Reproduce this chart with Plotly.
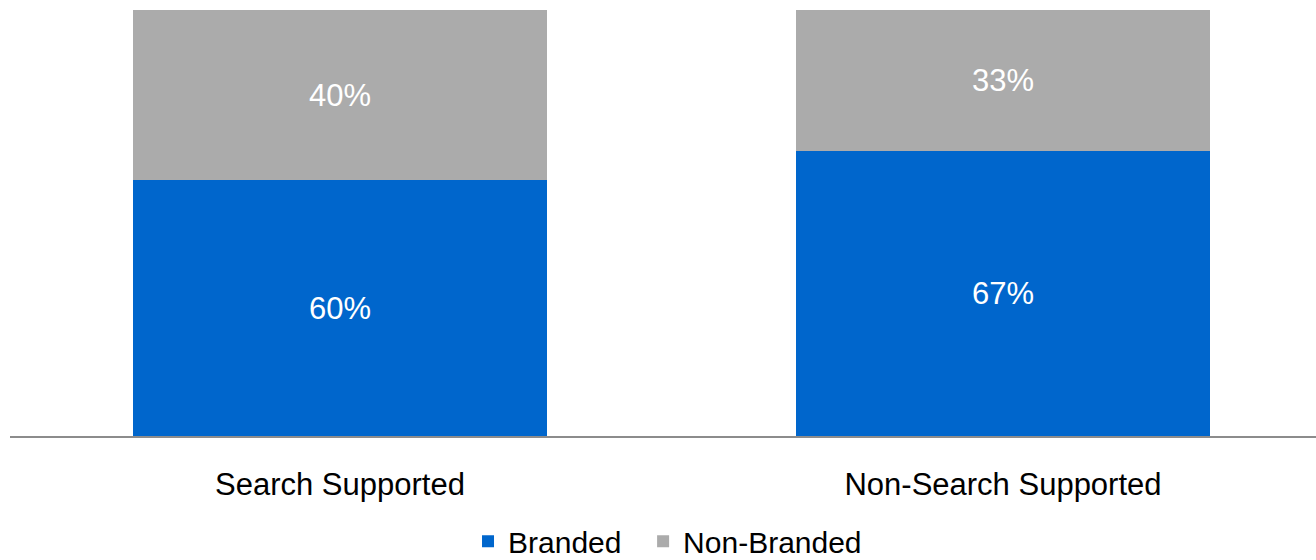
import plotly.graph_objects as go

categories = ["Search Supported", "Non-Search Supported"]
branded = [60, 67]
non_branded = [40, 33]

series_names = ["Branded", "Non-Branded"]
series_colors = ["#0066CC", "#ABABAB"]

FONT = "Liberation Sans, Arial, sans-serif"
PAD = "\u00a0\u00a0"  # extra room between legend entries

fig = go.Figure()
for i, (name, vals, color) in enumerate(zip(series_names, [branded, non_branded], series_colors)):
    fig.add_trace(go.Bar(
        name=name + (PAD if i < len(series_names) - 1 else ""),
        x=categories,
        y=vals,
        width=0.6244,
        marker=dict(color=color, line=dict(width=0)),
        text=[f"{v}%" for v in vals],
        textposition="inside",
        insidetextanchor="middle",
        textangle=0,
        textfont=dict(family=FONT, size=31, color="#FFFFFF"),
        hoverinfo="skip",
    ))

fig.update_layout(
    barmode="stack",
    width=1316,
    height=560,
    margin=dict(l=10, r=0, t=10, b=124, autoexpand=False),
    plot_bgcolor="#FFFFFF",
    paper_bgcolor="#FFFFFF",
    font=dict(family=FONT, color="#000000"),
    bargap=0,
    legend=dict(
        orientation="h",
        x=0.3507, xanchor="left",
        y=-0.247, yanchor="middle",
        font=dict(family=FONT, size=30, color="#000000"),
        itemwidth=30,
        traceorder="normal",
    ),
)

fig.update_xaxes(
    type="category",
    range=[-0.4977, 1.4721],
    showline=True,
    linecolor="#8C8C8C",
    linewidth=1.5,
    showgrid=False,
    ticks="",
    ticklabelstandoff=20,
    tickfont=dict(family=FONT, size=31, color="#000000"),
    fixedrange=True,
)
fig.update_yaxes(
    range=[0, 100],
    visible=False,
    showgrid=False,
    zeroline=False,
    fixedrange=True,
)

fig.write_html("out.html", config=dict(displayModeBar=False))
